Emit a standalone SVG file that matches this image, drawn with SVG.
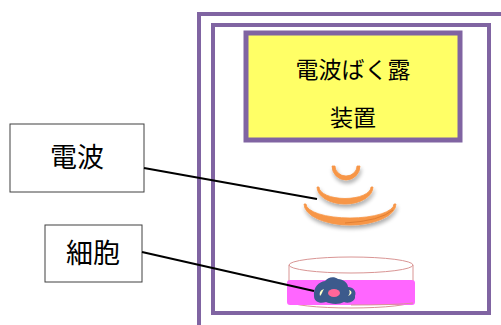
<svg xmlns="http://www.w3.org/2000/svg" width="501" height="325" viewBox="0 0 501 325">
  <style>
    .frame { fill: none; stroke: #8064A2; stroke-width: 4; }
    .label { fill: #FFFFFF; stroke: #404040; stroke-width: 1; }
    .txt { font-family: "Liberation Sans", "Noto Sans CJK JP", sans-serif; fill: #000000; text-anchor: middle; dominant-baseline: central; }
    .wave { fill: #F79646; stroke: #F79646; stroke-width: 0.8; stroke-linejoin: round; }
    .lead { stroke: #000000; stroke-width: 2; fill: none; }
  </style>
  <defs>
    <filter id="shadow" x="-20%" y="-40%" width="140%" height="200%">
      <feGaussianBlur in="SourceAlpha" stdDeviation="2"/>
      <feOffset dx="1" dy="3" result="b"/>
      <feComponentTransfer><feFuncA type="linear" slope="0.35"/></feComponentTransfer>
      <feMerge><feMergeNode/><feMergeNode in="SourceGraphic"/></feMerge>
    </filter>
  </defs>

  <rect width="501" height="325" fill="#FFFFFF"/>

  <!-- shield enclosure: outer and inner walls -->
  <g id="enclosure">
    <rect class="frame" x="199" y="14" width="310" height="320"/>
    <rect class="frame" x="213" y="25" width="276" height="288"/>
  </g>

  <!-- exposure device -->
  <g id="device">
    <rect x="246" y="33" width="214" height="107" fill="#FFFF66" stroke="#8064A2" stroke-width="5"/>
    <text class="txt" x="353" y="70" font-size="23">電波ばく露</text>
    <text class="txt" x="353" y="118" font-size="23">装置</text>
  </g>

  <!-- radiated waves (crescents) -->
  <g id="waves" filter="url(#shadow)">
    <path class="wave" d="M332,166 A14,14 0 0 0 360,166 L357,166 A11,10 0 0 1 335,166 Z"/>
    <path class="wave" d="M317,187 A28,17 0 0 0 373,187 L371,187 A26,11.5 0 0 1 319,187 Z"/>
    <path class="wave" d="M304,204 A46,21 0 0 0 396,204 L394,204 A44,14 0 0 1 306,204 Z"/>
    <path d="M345,223 Q380,221 393,210" fill="none" stroke="#D9772E" stroke-width="0.8"/>
  </g>

  <!-- culture dish -->
  <g id="dish">
    <path d="M289,265 L289,301 A62,7 0 0 0 413,301 L413,265" fill="none" stroke="#D99594" stroke-width="1"/>
    <rect x="287" y="280" width="128" height="25" rx="3" fill="#FF66FF"/>
    <ellipse cx="351" cy="265" rx="62" ry="8" fill="none" stroke="#D99594" stroke-width="1"/>
    <path d="M351,305 A62,3 0 0 0 413,303" fill="none" stroke="#D99594" stroke-width="1"/>
  </g>
  <g id="cell">
    <path d="M314,296 C313,287 319,282 325,281 C328,277 334,276 338,279 C343,279 348,283 348,287 C353,287 357,291 355,296 C356,301 349,304 344,302 C339,305 330,304 326,302 C320,304 314,302 314,296 Z" fill="#3C5A8C"/>
    <path d="M320,296 C319,292 321,290 324,289 C322,292 322,294 320,296 Z" fill="#FFFFCC"/>
    <path d="M348,296 C350,294 350,292 349,290 C352,291 353,294 348,296 Z" fill="#FFFFCC"/>
    <ellipse cx="334" cy="293" rx="6" ry="4" fill="#FF6699"/>
  </g>

  <!-- callout labels -->
  <g id="label-wave">
    <rect class="label" x="10" y="124" width="134" height="68"/>
    <text class="txt" x="77" y="158" font-size="27">電波</text>
  </g>
  <g id="label-cell">
    <rect class="label" x="45" y="225" width="97" height="57"/>
    <text class="txt" x="93" y="254" font-size="27">細胞</text>
  </g>

  <!-- leader lines -->
  <g id="connectors">
    <line class="lead" x1="144" y1="168" x2="317" y2="199"/>
    <line class="lead" x1="142" y1="252" x2="314" y2="291"/>
  </g>
</svg>
